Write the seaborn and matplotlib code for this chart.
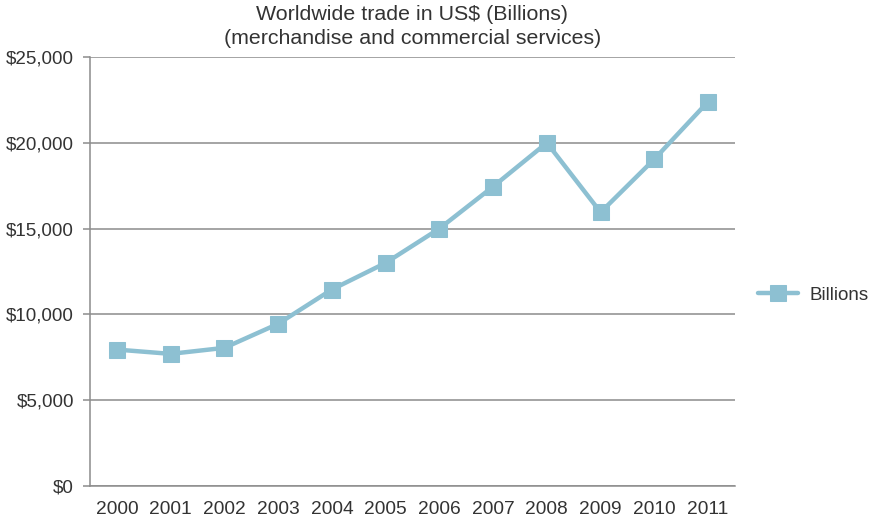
import matplotlib
matplotlib.use("Agg")
import matplotlib.pyplot as plt
import matplotlib.ticker as mticker
import seaborn as sns
import pandas as pd
import numpy as np

years = ["2000", "2001", "2002", "2003", "2004", "2005",
         "2006", "2007", "2008", "2009", "2010", "2011"]
billions = [7950, 7700, 8050, 9450, 11450, 13000,
            15000, 17450, 20000, 15950, 19050, 22400]
y_ticks = [0, 5000, 10000, 15000, 20000, 25000]
series_name = "Billions"
title_lines = ["Worldwide trade in US$ (Billions)",
               "(merchandise and commercial services)"]

sns.set_style("white")
plt.rcParams["font.family"] = ["Liberation Sans", "DejaVu Sans"]

line_color = "#8DC0D2"
grid_color = "#8C8C8C"
text_color = "#333333"

df = pd.DataFrame({"year": years, "value": billions, "series": series_name})

fig = plt.figure(figsize=(8.76, 5.21), dpi=100)
ax = fig.add_axes([90 / 876, 1 - 486 / 521, 645 / 876, 429 / 521])

sns.lineplot(data=df, x="year", y="value", hue="series", palette=[line_color],
             marker="s", markersize=11.5, markeredgecolor=line_color,
             linewidth=3.2, sort=False, ax=ax, zorder=3)

ax.set_xlim(-0.5, len(years) - 0.5)
ax.set_ylim(0, 25000)
ax.set_yticks(y_ticks)
ax.yaxis.set_major_formatter(mticker.FuncFormatter(lambda v, p: f"${int(v):,}"))
ax.yaxis.grid(True, color=grid_color, linewidth=1.1)
ax.set_axisbelow(True)

# category ticks sit between years; labels centred under each year
ax.set_xticks(np.arange(len(years)))
ax.set_xticklabels(years)
ax.set_xticks(np.arange(-0.5, len(years)), minor=True)
ax.tick_params(axis="x", which="major", length=0, pad=11, labelsize=13.8, labelcolor=text_color)
ax.tick_params(axis="x", which="minor", length=5, width=1.1, color=grid_color, direction="out")
ax.tick_params(axis="y", which="major", length=5, width=1.1, color=grid_color, direction="out",
               pad=6.5, labelsize=13.5, labelcolor=text_color, left=True)

ax.set_xlabel("")
ax.set_ylabel("")
for side in ("top", "right"):
    ax.spines[side].set_visible(False)
for side in ("left", "bottom"):
    ax.spines[side].set_color(grid_color)
    ax.spines[side].set_linewidth(1.1)

leg = ax.legend(loc="center left", bbox_to_anchor=(758 / 876, 1 - 295 / 521),
                bbox_transform=fig.transFigure, frameon=False, borderpad=0,
                borderaxespad=0, fontsize=13.5, handlelength=2.15, handletextpad=0.6)
for t in leg.get_texts():
    t.set_color(text_color)

title_x = (90 + 735) / 2 / 876
fig.text(title_x, 1 - 14 / 521, title_lines[0], ha="center", va="center",
         fontsize=15.4, color=text_color)
fig.text(title_x, 1 - 38 / 521, title_lines[1], ha="center", va="center",
         fontsize=15.4, color=text_color)

fig.savefig("out.png", dpi=100)
